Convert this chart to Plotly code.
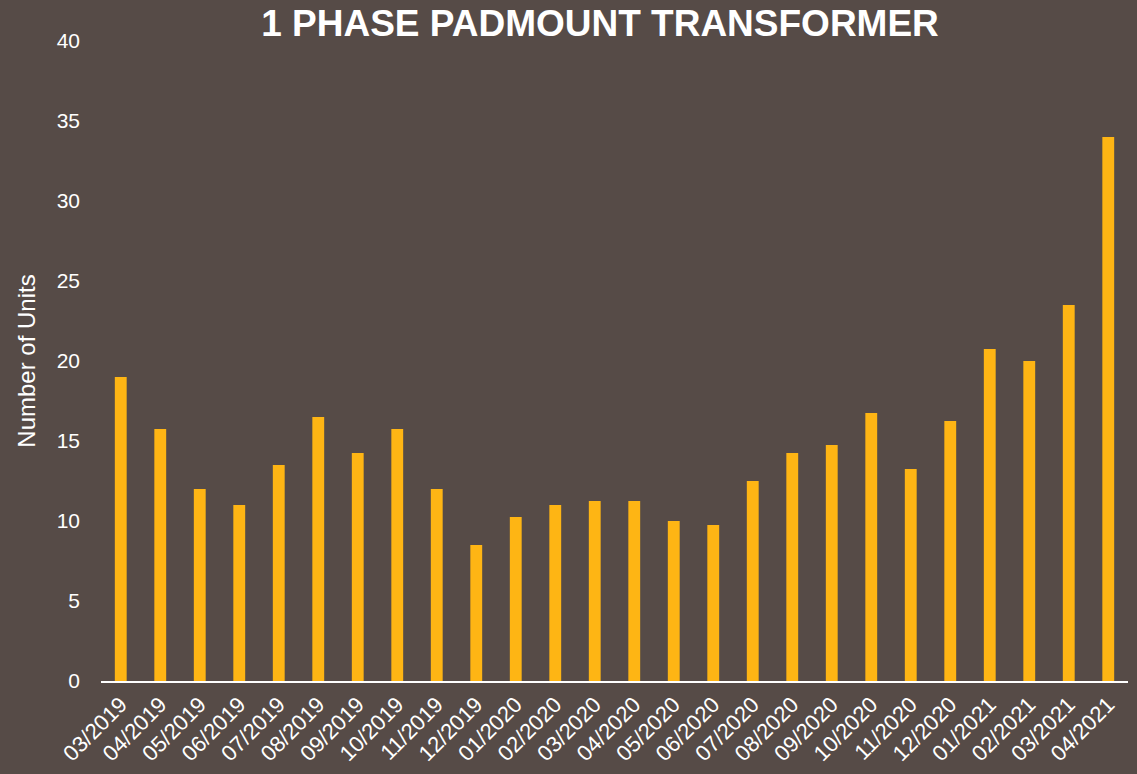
import plotly.graph_objects as go

months = ["03/2019", "04/2019", "05/2019", "06/2019", "07/2019", "08/2019", "09/2019",
          "10/2019", "11/2019", "12/2019", "01/2020", "02/2020", "03/2020", "04/2020",
          "05/2020", "06/2020", "07/2020", "08/2020", "09/2020", "10/2020", "11/2020",
          "12/2020", "01/2021", "02/2021", "03/2021", "04/2021"]
units = [19.0, 15.75, 12.0, 11.0, 13.5, 16.5, 14.25, 15.75, 12.0, 8.5, 10.25, 11.0,
         11.25, 11.25, 10.0, 9.75, 12.5, 14.25, 14.75, 16.75, 13.25, 16.25, 20.75,
         20.0, 23.5, 34.0]
y_ticks = [0, 5, 10, 15, 20, 25, 30, 35, 40]

BG = "#564b47"
BAR = "#feb514"

fig = go.Figure(go.Bar(x=months, y=units, marker=dict(color=BAR, line=dict(width=0))))

fig.update_layout(
    width=1137, height=774,
    paper_bgcolor=BG, plot_bgcolor=BG,
    margin=dict(l=101, r=9, t=41, b=93),
    bargap=0.7,
    font=dict(family="Liberation Sans, Arial, sans-serif", color="white", size=21),
    title=dict(text="<b>1 PHASE PADMOUNT TRANSFORMER</b>", x=0.5277, xanchor="center",
               y=0.970, yanchor="middle", font=dict(size=37, color="white")),
    showlegend=False,
)
fig.update_xaxes(showgrid=False, showline=True, linecolor="white", linewidth=2,
                 tickangle=-45, tickfont=dict(size=22, color="white"), ticks="")
fig.update_yaxes(range=[0, 40], tickvals=y_ticks, showgrid=False, zeroline=False,
                 showline=False, tickfont=dict(size=21, color="white"), ticks="",
                 ticklabelstandoff=20,
                 title=dict(text="Number of Units", font=dict(size=24, color="white"), standoff=14))

post = ("document.body.style.margin='0';document.body.style.padding='0';"
        "document.body.style.backgroundColor='%s';document.body.style.overflow='hidden';" % BG)
fig.write_html("out.html", post_script=post, config={"displayModeBar": False})
